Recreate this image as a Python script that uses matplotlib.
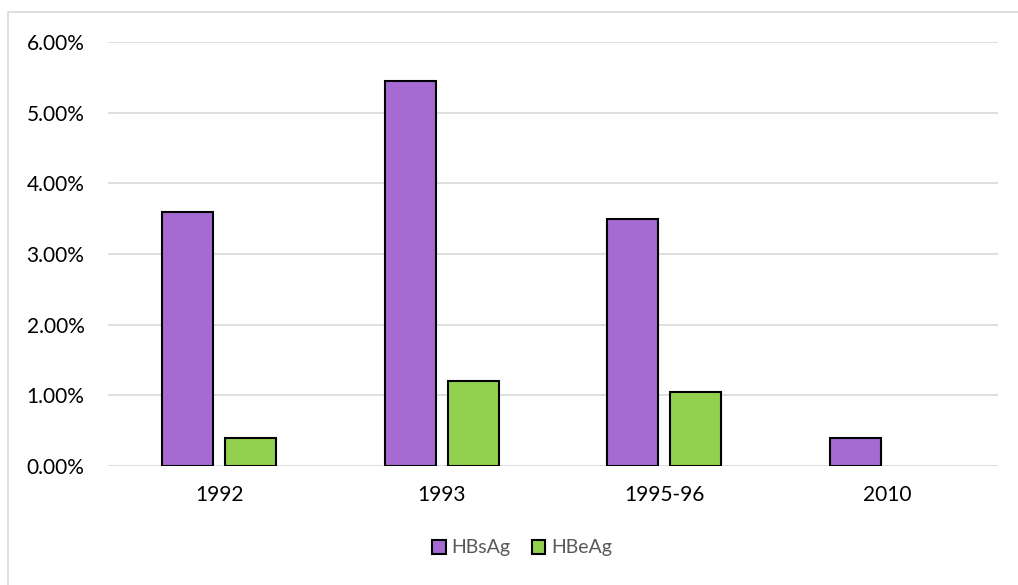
import matplotlib
matplotlib.use("Agg")
import matplotlib.pyplot as plt
from matplotlib.patches import Rectangle
import numpy as np

categories = ["1992", "1993", "1995-96", "2010"]
hbsag = [3.60, 5.45, 3.50, 0.40]
hbeag = [0.40, 1.20, 1.05, np.nan]
y_ticks = [0, 1, 2, 3, 4, 5, 6]

W, H = 1018, 585
fig = plt.figure(figsize=(W / 100, H / 100), dpi=100)
plt.rcParams["font.family"] = ["Lato", "DejaVu Sans"]

# outer chart frame (only its left and top edges fall inside the image)
fig.patches.append(Rectangle((8 / W, -0.2), 1.2, (H - 12) / H + 0.2,
                             transform=fig.transFigure, fill=False,
                             edgecolor="#D9D9D9", linewidth=1.2))

ax = fig.add_axes([108 / W, (H - 466) / H, (998 - 108) / W, (466 - 42) / H])
x = np.arange(len(categories))
bw = 51 / 222.5
off = 31.5 / 222.5
ax.bar(x - off, hbsag, bw, color="#A66BD3", edgecolor="black", linewidth=1.5,
       label="HBsAg", zorder=3)
ax.bar(x + off, hbeag, bw, color="#92D050", edgecolor="black", linewidth=1.5,
       label="HBeAg", zorder=3)

ax.set_xlim(-0.5, len(categories) - 0.5)
ax.set_ylim(0, 6)
ax.set_yticks(y_ticks)
ax.set_yticklabels([f"{v:.2f}%" for v in y_ticks])
ax.set_xticks(x)
ax.set_xticklabels(categories)
ax.grid(axis="y", color="#D9D9D9", linewidth=1.2, zorder=0)
for s in ax.spines.values():
    s.set_visible(False)
ax.tick_params(axis="both", length=0, labelsize=15, colors="#000000")
ax.tick_params(axis="y", pad=17)
ax.tick_params(axis="x", pad=14)

leg = fig.legend(loc="center", bbox_to_anchor=(522 / W, (H - 548) / H), ncol=2,
                 frameon=False, fontsize=14, handlelength=0.7, handleheight=0.7,
                 handletextpad=0.3, columnspacing=1.1)
for t in leg.get_texts():
    t.set_color("#595959")

fig.savefig("out.png", dpi=100)
